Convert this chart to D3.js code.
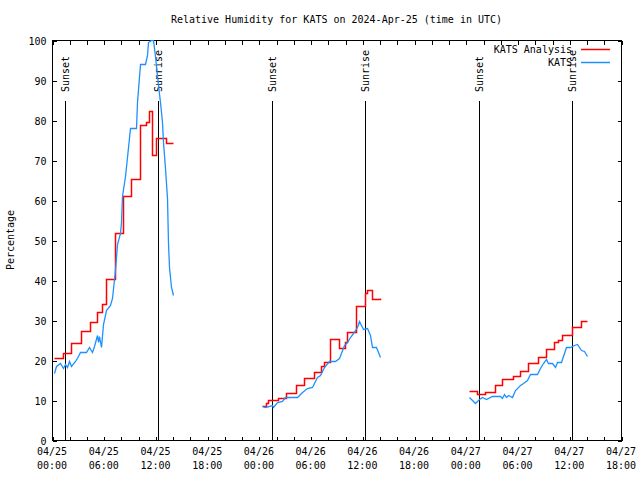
<!DOCTYPE html>
<html><head><meta charset="utf-8">
<script src="https://cdn.jsdelivr.net/npm/d3@7"></script>
<style>
body{margin:0;background:#fff}
text{font-family:"DejaVu Sans Mono",monospace;font-size:10px;fill:#000}
</style>
</head><body>
<svg id="chart" width="640" height="480"></svg>
<script>
// ---------- DATA ----------
const chartTitle = "Relative Humidity for KATS on 2024-Apr-25 (time in UTC)";
const yTitle = "Percentage";
const seriesNames = ["KATS Analysis", "KATS"];
const seriesColors = ["#ff0000", "#1e90ff"];

const yTicks = [0,10,20,30,40,50,60,70,80,90,100];
const xDomain = ["04-25 00:00", "04-27 18:00"];
const xLabelTimes = ["04-25 00:00","04-25 06:00","04-25 12:00","04-25 18:00",
  "04-26 00:00","04-26 06:00","04-26 12:00","04-26 18:00",
  "04-27 00:00","04-27 06:00","04-27 12:00","04-27 18:00"];

const sunTimes  = ["04-25 01:30","04-25 12:18","04-26 01:31","04-26 12:19","04-27 01:32","04-27 12:20"];
const sunLabels = ["Sunset","Sunrise","Sunset","Sunrise","Sunset","Sunrise"];
const sunLineTop = 85;

// Observations (KATS) - null breaks the line
const obsTimes = [
 "04-25 00:15","04-25 00:30","04-25 00:55","04-25 01:15","04-25 01:30","04-25 01:45","04-25 02:00","04-25 02:15",
 "04-25 02:40","04-25 03:00","04-25 03:15","04-25 04:00","04-25 04:20","04-25 04:35","04-25 04:50","04-25 05:10",
 "04-25 05:20","04-25 05:25","04-25 05:40","04-25 05:55","04-25 06:15","04-25 06:45","04-25 06:55","04-25 07:20",
 "04-25 07:35","04-25 07:50","04-25 08:00","04-25 08:10","04-25 08:30","04-25 08:45","04-25 09:00","04-25 09:45",
 "04-25 09:55","04-25 10:10","04-25 10:45","04-25 11:00","04-25 11:10","04-25 11:30","04-25 11:45","04-25 11:55",
 "04-25 12:20","04-25 12:30","04-25 12:45","04-25 12:55","04-25 13:05","04-25 13:20","04-25 13:30","04-25 13:35",
 "04-25 13:45","04-25 14:00","04-25 19:00",
 "04-26 00:20","04-26 00:45","04-26 01:30","04-26 01:40","04-26 02:05","04-26 02:40","04-26 03:00","04-26 04:25",
 "04-26 05:00","04-26 05:35","04-26 06:10","04-26 06:45","04-26 07:05","04-26 07:30","04-26 08:05","04-26 08:50",
 "04-26 09:15","04-26 09:50","04-26 10:10","04-26 10:35","04-26 10:55","04-26 11:20","04-26 11:40","04-26 11:55",
 "04-26 12:05","04-26 12:30","04-26 12:50","04-26 13:10","04-26 13:35","04-26 14:00","04-26 19:00",
 "04-27 00:20","04-27 01:05","04-27 01:35","04-27 01:50","04-27 02:20","04-27 03:00","04-27 04:00","04-27 04:10",
 "04-27 04:25","04-27 04:40","04-27 04:55","04-27 05:20","04-27 05:45","04-27 06:15","04-27 06:40","04-27 07:05",
 "04-27 07:25","04-27 08:15","04-27 08:35","04-27 09:00","04-27 09:20","04-27 09:35","04-27 10:00","04-27 10:20",
 "04-27 10:35","04-27 11:00","04-27 11:20","04-27 11:40","04-27 12:05","04-27 12:30","04-27 12:55","04-27 13:20",
 "04-27 13:45","04-27 14:00"];
const obsValues = [
 16.8,18.5,19.3,18.0,19.0,18.3,19.8,18.5,
 19.8,21.0,22.0,22.0,23.3,22.0,23.5,26.2,
 24.5,26.0,23.3,29.0,32.5,33.8,35.5,42.5,
 49.0,51.7,54.6,61.0,66.0,70.8,77.9,77.9,
 84.6,94.0,94.0,96.3,99.6,100,100,96.0,
 88.8,84.6,79.6,74.6,68.0,60.5,49.2,43.3,
 38.3,36.2,null,
 8.5,8.2,8.8,8.2,9.6,9.7,10.8,10.8,
 12.1,12.9,13.3,15.8,16.3,18.3,19.8,19.8,
 20.4,23.8,24.6,25.8,26.8,28.3,29.8,28.3,
 27.7,27.9,26.3,23.3,23.3,20.7,null,
 10.7,9.3,10.3,10.8,10.2,10.9,10.9,10.5,
 11.4,10.8,11.2,10.8,12.5,13.8,14.2,15.0,
 16.5,16.5,17.9,19.2,20.2,19.3,19.3,18.2,
 19.4,19.6,21.7,23.2,23.3,23.8,23.9,22.5,
 22.3,21.0];

// Analysis (KATS Analysis) - stepped values, null breaks the line
const anaTimes = [
 "04-25 00:15","04-25 01:20","04-25 02:15","04-25 03:20","04-25 04:25","04-25 05:10","04-25 05:50","04-25 06:15",
 "04-25 07:20","04-25 08:15","04-25 09:10","04-25 10:15","04-25 10:55","04-25 11:15","04-25 11:35","04-25 12:05",
 "04-25 13:15","04-25 14:00","04-25 19:00",
 "04-26 00:20","04-26 00:50","04-26 01:05","04-26 02:15","04-26 03:10","04-26 04:15","04-26 05:15","04-26 06:20",
 "04-26 07:15","04-26 07:30","04-26 08:15","04-26 09:15","04-26 10:00","04-26 10:10","04-26 11:15","04-26 12:20",
 "04-26 12:30","04-26 13:10","04-26 14:00","04-26 19:00",
 "04-27 00:20","04-27 01:20","04-27 02:15","04-27 03:20","04-27 04:15","04-27 05:30","04-27 06:20","04-27 07:15",
 "04-27 08:20","04-27 09:20","04-27 10:15","04-27 10:45","04-27 11:10","04-27 12:20","04-27 13:20","04-27 14:00"];
const anaValues = [
 20.4,21.7,24.2,27.3,29.4,31.9,34.0,40.2,
 51.7,61.0,65.2,78.8,79.5,82.3,71.2,75.4,
 74.2,74.2,null,
 8.5,9.2,10.0,10.4,11.7,13.75,15.4,17.1,
 18.5,19.6,25.2,23.1,24.6,27.1,33.5,36.7,
 37.5,35.3,35.4,null,
 12.25,11.4,11.9,13.7,15.3,16.0,17.2,19.2,
 20.8,22.8,24.4,25.0,26.25,28.2,29.75,29.75];

// ---------- CHART ----------
const parseT = s => d3.utcParse("%Y-%m-%d %H:%M")("2024-" + s);
const L = 52, R = 621, T = 40, B = 440;

const x = d3.scaleUtc().domain(xDomain.map(parseT)).range([L, R]);
const y = d3.scaleLinear().domain([0, 100]).range([B, T]);
const px = v => Math.round(v) + 0.5;

const svg = d3.select("#chart");
svg.append("defs").append("clipPath").attr("id","clip")
  .append("rect").attr("x",L).attr("y",T).attr("width",R-L+1).attr("height",B-T+1);

// title
svg.append("text").attr("x",(L+R)/2).attr("y",23).attr("text-anchor","middle").text(chartTitle);
// y title
svg.append("text").attr("transform",`translate(14,${(T+B)/2}) rotate(-90)`)
  .attr("text-anchor","middle").text(yTitle);

const xTickVals = d3.utcHour.every(2).range(x.domain()[0], new Date(+x.domain()[1] + 1));

const gx = svg.append("g").attr("transform",`translate(0.5,${B+0.5})`)
  .call(d3.axisBottom(x).tickValues(xTickVals).tickSize(-4).tickFormat(""));
const gxt = svg.append("g").attr("transform",`translate(0.5,${T+0.5})`)
  .call(d3.axisTop(x).tickValues(xTickVals).tickSize(-4).tickFormat(""));
const gy = svg.append("g").attr("transform",`translate(${L+0.5},0.5)`)
  .call(d3.axisLeft(y).tickValues(yTicks).tickSize(-4).tickPadding(6).tickFormat(d3.format("d")));
const gyr = svg.append("g").attr("transform",`translate(${R+0.5},0.5)`)
  .call(d3.axisRight(y).tickValues(yTicks).tickSize(-4).tickFormat(""));
[gx,gxt,gy,gyr].forEach(g=>{
  g.select(".domain").remove();
  g.selectAll("line").attr("stroke","#000").attr("shape-rendering","crispEdges");
  g.selectAll("text").style("font-family",'"DejaVu Sans Mono",monospace').style("font-size","10px");
});
gy.selectAll("text").attr("dy","0.35em");

// x labels (two lines)
const fmtD = d3.utcFormat("%m/%d"), fmtH = d3.utcFormat("%H:%M");
const xl = svg.append("g").selectAll("text").data(xLabelTimes.map(parseT)).join("text")
  .attr("x", d => x(d)).attr("text-anchor","middle");
xl.append("tspan").attr("x", d=>x(d)).attr("y",455).text(fmtD);
xl.append("tspan").attr("x", d=>x(d)).attr("y",469).text(fmtH);

// border
svg.append("rect").attr("x",L+0.5).attr("y",T+0.5).attr("width",R-L).attr("height",B-T)
  .attr("fill","none").attr("stroke","#000").attr("shape-rendering","crispEdges");

// sun lines
const sun = svg.append("g");
sunTimes.forEach((s,i)=>{
  const sx = px(x(parseT(s)));
  sun.append("line").attr("x1",sx).attr("x2",sx).attr("y1",px(y(sunLineTop))).attr("y2",px(y(0)))
    .attr("stroke","#000").attr("shape-rendering","crispEdges");
  sun.append("text").attr("transform",`translate(${sx+3.5},${y(sunLineTop)-8}) rotate(-90)`)
    .attr("text-anchor","start").text(sunLabels[i]);
});

// data
const anaData = anaTimes.map((t,i)=>({t:parseT(t), v:anaValues[i]}));
const obsData = obsTimes.map((t,i)=>({t:parseT(t), v:obsValues[i]}));

const plot = svg.append("g").attr("clip-path","url(#clip)");
plot.append("path").datum(anaData)
  .attr("d", d3.line().defined(d=>d.v!=null).x(d=>px(x(d.t))).y(d=>px(y(d.v))).curve(d3.curveStepAfter))
  .attr("fill","none").attr("stroke",seriesColors[0]).attr("stroke-width",1.5);
plot.append("path").datum(obsData)
  .attr("d", d3.line().defined(d=>d.v!=null).x(d=>px(x(d.t))).y(d=>px(y(d.v))))
  .attr("fill","none").attr("stroke",seriesColors[1]).attr("stroke-width",1.3);

// legend
const leg = svg.append("g");
seriesNames.forEach((n,i)=>{
  const ly = 49 + i*13;
  leg.append("text").attr("x",572).attr("y",ly).attr("dy","0.35em").attr("text-anchor","end").text(n);
  leg.append("line").attr("x1",581).attr("x2",610).attr("y1",ly+0.5).attr("y2",ly+0.5)
    .attr("stroke",seriesColors[i]).attr("stroke-width",1.5);
});
</script>
</body></html>
